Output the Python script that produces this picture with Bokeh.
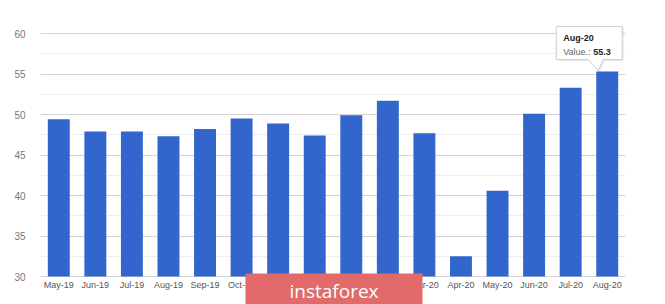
from bokeh.plotting import figure
from bokeh.models import FactorRange, Range1d, FixedTicker, Label
from bokeh.core.properties import value
from bokeh.embed import file_html
from bokeh.resources import INLINE

# ---- data ----
months = ["May-19", "Jun-19", "Jul-19", "Aug-19", "Sep-19", "Oct-19", "Nov-19", "Dec-19",
          "Jan-20", "Feb-20", "Mar-20", "Apr-20", "May-20", "Jun-20", "Jul-20", "Aug-20"]
values = [49.4, 47.9, 47.9, 47.3, 48.2, 49.5, 48.9, 47.4,
          49.9, 51.7, 47.7, 32.5, 40.6, 50.1, 53.3, 55.3]
y_ticks = [30, 35, 40, 45, 50, 55, 60]
y_minor = [32.5, 37.5, 42.5, 47.5, 52.5, 57.5]
tip_title = months[-1]
tip_label = "Value.:"
tip_value = f"{values[-1]:.1f}"
watermark = "instaforex"

# ---- layout ----
W, H = 665, 304
left_b, right_b, top_b = 40, 40, 20
base = 30
uy = 243.0 / (y_ticks[-1] - y_ticks[0])      # px per value unit
frame_w = W - left_b - right_b
frame_h = H - top_b
y_lo = base - 28.0 / uy                       # frame runs to canvas bottom
y_hi = y_lo + frame_h / uy
ux = frame_w / len(months)

p = figure(width=W, height=H, x_range=FactorRange(*months, range_padding=0),
           y_range=Range1d(y_lo, y_hi), output_backend="svg", toolbar_location=None,
           x_axis_location="above",
           min_border_left=left_b, min_border_right=right_b,
           min_border_top=top_b, min_border_bottom=0)
p.outline_line_color = None
p.background_fill_color = "white"
p.border_fill_color = "white"

p.vbar(x=months, top=values, bottom=base, width=0.6, fill_color="#3366cc",
       line_color=None)

# axes
p.yaxis.ticker = FixedTicker(ticks=y_ticks, minor_ticks=y_minor)
for ax in (p.xaxis[0], p.yaxis[0]):
    ax.axis_line_color = None
    ax.major_tick_line_color = None
    ax.minor_tick_line_color = None
    ax.major_label_text_font = "Liberation Sans"
p.yaxis.major_label_text_font_size = "10px"
p.yaxis.major_label_text_color = "#777777"
p.yaxis.major_label_standoff = 9
xa_ = p.xaxis[0]
xa_.fixed_location = base
xa_.major_label_text_font_size = "9px"
xa_.major_label_text_color = "#555555"
xa_.major_label_standoff = -19

p.xgrid.grid_line_color = None
p.ygrid.grid_line_color = "#d4d4d4"
p.ygrid.minor_grid_line_color = "#eeeeee"

# ---- tooltip on last bar ----
xa = len(months) - 0.5
ya = values[-1]
def X(dpx):
    return xa + dpx / ux
def Y(dpx):
    return ya - dpx / uy   # dpx downward positive

bx0, bx1, by0, by1 = -51, 15, -45, -12
poly_x = [X(bx0), X(bx1), X(bx1), X(-4), X(-9), X(-19), X(bx0)]
poly_y = [Y(by0), Y(by0), Y(by1), Y(by1), Y(-1), Y(by1), Y(by1)]
p.patch([v + 1.5 / ux for v in poly_x], [v - 1.5 / uy for v in poly_y],
        fill_color="#000000", fill_alpha=0.08, line_color=None)
p.patch(poly_x, poly_y, fill_color="white", line_color="#cccccc", line_width=1)
p.text(x=[X(-44)], y=[Y(-33.5)], text=[tip_title], text_font=value("Liberation Sans"),
       text_font_size="9px", text_font_style="bold", text_color="#222222",
       text_baseline="middle")
p.text(x=[X(-44)], y=[Y(-20)], text=[tip_label], text_font=value("Liberation Sans"),
       text_font_size="9px", text_color="#666666", text_baseline="middle")
p.text(x=[X(-14)], y=[Y(-20)], text=[tip_value], text_font=value("Liberation Sans"),
       text_font_size="9px", text_font_style="bold", text_color="#222222",
       text_baseline="middle")

# ---- watermark ----
wm = Label(x=(333.5 - left_b) / ux, y=base - 14.0 / uy, text=watermark,
           text_align="center", text_baseline="middle", text_color="white",
           text_font="Open Sans", text_font_size="19px",
           background_fill_color="#e26a6a", background_fill_alpha=1.0,
           padding=(44, 4))
p.add_layout(wm)

open("out.html", "w").write(file_html(p, INLINE))
